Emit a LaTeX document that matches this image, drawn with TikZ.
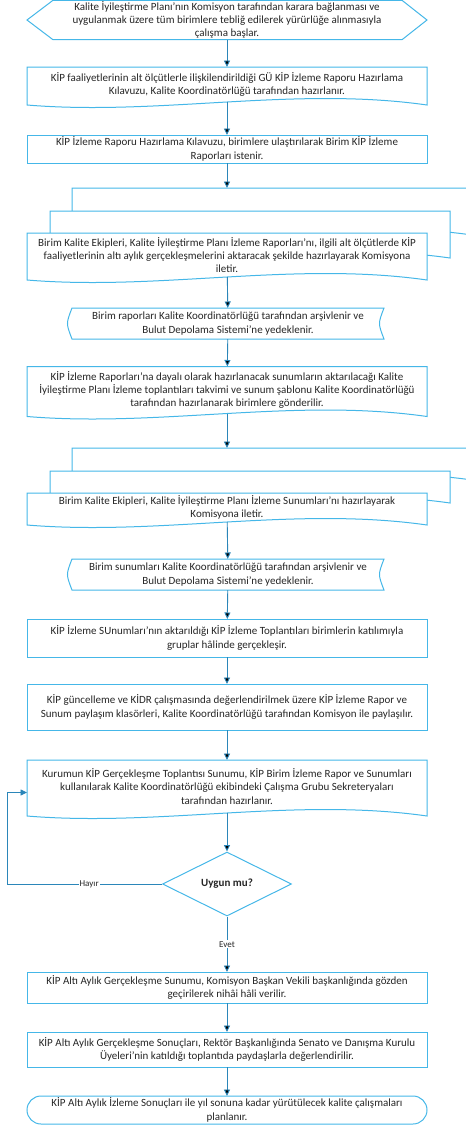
\documentclass[tikz,border=0pt]{standalone}
\usepackage{fontspec}
\setmainfont{Carlito}
\usepackage{tikz}
\usetikzlibrary{arrows.meta, shapes.geometric, backgrounds}
\definecolor{shapeblue}{HTML}{45B7E8}
\definecolor{arrowblue}{HTML}{2B86B9}
\definecolor{textgray}{HTML}{262626}

% document page with wavy bottom, shifted by (#2,#3)
\newcommand{\docpath}[3]{%
  \filldraw[shapeline] ([xshift=#2pt, yshift=#3pt-3pt]#1.south west) -- ([xshift=#2pt, yshift=#3pt]#1.north west)
    -- ([xshift=#2pt, yshift=#3pt]#1.north east) -- ([xshift=#2pt, yshift=#3pt-3pt]#1.south east)
    .. controls ([xshift=#2pt-133pt, yshift=#3pt+16pt]#1.south east) and ([xshift=#2pt+133pt, yshift=#3pt-14pt]#1.south west)
    .. ([xshift=#2pt, yshift=#3pt-3pt]#1.south west) -- cycle;}
% stored data outline
\newcommand{\storedpath}[1]{%
  \filldraw[shapeline] (#1.north west) -- (#1.north east) .. controls ([xshift=-6pt]#1.east) .. (#1.south east)
    -- (#1.south west) .. controls ([xshift=-6pt]#1.west) .. (#1.north west) -- cycle;}

\begin{document}
\begin{tikzpicture}[x=1pt, y=-1pt]
\tikzstyle{txt}=[align=center, font=\fontsize{11}{13.3}\selectfont, text=textgray, inner sep=1pt, outer sep=0pt, minimum width=400pt]
\tikzstyle{box}=[txt, rectangle, draw=shapeblue, line width=1pt]
\tikzstyle{stored}=[txt, minimum width=312pt]
\tikzstyle{terminal}=[box, rounded corners=14pt]
\tikzstyle{decision}=[diamond, draw=shapeblue, line width=1pt, minimum width=129pt, minimum height=64pt, inner sep=0pt, font=\fontsize{11}{12}\selectfont\bfseries, text=textgray]
\tikzstyle{flow}=[draw=arrowblue, line width=0.9pt, -{Triangle[width=6pt,length=6.5pt]}]
\tikzstyle{choice}=[fill=white, font=\fontsize{9}{10}\selectfont, text=textgray, inner sep=1pt]
\tikzset{shapeline/.style={draw=shapeblue, line width=1pt, fill=white}}

\useasboundingbox (0,0) rectangle (466,1125);

\node[txt, minimum height=38pt] (start) at (227,20) {Kalite İyileştirme Planı’nın Komisyon tarafından karara bağlanması ve\\ uygulanmak üzere tüm birimlere tebliğ edilerek yürürlüğe alınmasıyla\\ çalışma başlar.};
\node[txt, minimum height=35pt] (d1) at (227,84.5) {KİP faaliyetlerinin alt ölçütlerle ilişkilendirildiği GÜ KİP İzleme Raporu Hazırlama\\ Kılavuzu, Kalite Koordinatörlüğü tarafından hazırlanır.};
\node[box, minimum height=28pt] (r1) at (227,149) {KİP İzleme Raporu Hazırlama Kılavuzu, birimlere ulaştırılarak Birim KİP İzleme\\ Raporları istenir.};
\node[txt, minimum height=44pt] (m1) at (227,255) {Birim Kalite Ekipleri, Kalite İyileştirme Planı İzleme Raporları’nı, ilgili alt ölçütlerde KİP\\ faaliyetlerinin altı aylık gerçekleşmelerini aktaracak şekilde hazırlayarak Komisyona\\ iletir.};
\coordinate (m1back) at ([yshift=45pt]m1.north);
\node[stored, minimum height=31pt] (s1) at (228,323.5) {Birim raporları Kalite Koordinatörlüğü tarafından arşivlenir ve\\ Bulut Depolama Sistemi’ne yedeklenir.};
\node[txt, minimum height=47pt] (d2) at (227,390) {KİP İzleme Raporları’na dayalı olarak hazırlanacak sunumların aktarılacağı Kalite\\ İyileştirme Planı İzleme toplantıları takvimi ve sunum şablonu Kalite Koordinatörlüğü\\ tarafından hazırlanarak birimlere gönderilir.};
\node[txt, minimum height=29pt] (m2) at (227,507.5) {Birim Kalite Ekipleri, Kalite İyileştirme Planı İzleme Sunumları’nı hazırlayarak\\ Komisyona iletir.};
\coordinate (m2back) at ([yshift=45pt]m2.north);
\node[stored, minimum height=31pt] (s2) at (228,574.5) {Birim sunumları Kalite Koordinatörlüğü tarafından arşivlenir ve\\ Bulut Depolama Sistemi’ne yedeklenir.};
\node[box, minimum height=38pt] (r2) at (227,638) {KİP İzleme SUnumları’nın aktarıldığı KİP İzleme Toplantıları birimlerin katılımıyla\\ gruplar hâlinde gerçekleşir.};
\node[box, minimum height=46pt] (r3) at (227,707) {KİP güncelleme ve KİDR çalışmasında değerlendirilmek üzere KİP İzleme Rapor ve\\ Sunum paylaşım klasörleri, Kalite Koordinatörlüğü tarafından Komisyon ile paylaşılır.};
\node[txt, minimum height=53pt] (d3) at (227,786.5) {Kurumun KİP Gerçekleşme Toplantısı Sunumu, KİP Birim İzleme Rapor ve Sunumları\\ kullanılarak Kalite Koordinatörlüğü ekibindeki Çalışma Grubu Sekreteryaları\\ tarafından hazırlanır.};
\node[decision] (dia) at (227,884) {Uygun mu?};
\node[box, minimum height=31pt] (r4) at (227,987.5) {KİP Altı Aylık Gerçekleşme Sunumu, Komisyon Başkan Vekili başkanlığında gözden\\ geçirilerek nihâi hâli verilir.};
\node[box, minimum height=35pt] (r5) at (227,1049.5) {KİP Altı Aylık Gerçekleşme Sonuçları, Rektör Başkanlığında Senato ve Danışma Kurulu\\ Üyeleri’nin katıldığı toplantıda paydaşlarla değerlendirilir.};
\node[terminal, minimum height=28pt] (t1) at (227,1110) {KİP Altı Aylık İzleme Sonuçları ile yıl sonuna kadar yürütülecek kalite çalışmaları\\ planlanır.};

\path[flow]
(start) edge (d1)
(d1) edge (r1)
(r1) edge (m1back)
(m1) edge (s1)
(s1) edge (d2)
(d2) edge (m2back)
(m2) edge (s2)
(s2) edge (r2)
(r2) edge (r3)
(r3) edge (d3)
(d3) edge (dia)
(dia) edge node[choice, pos=0.5] {Evet} (r4)
(r4) edge (r5)
(r5) edge (t1);

\draw[flow] (dia.west) -- node[choice, pos=0.47] {Hayır} ++(-155,0) |- ([yshift=-6pt]d3.west);

\begin{pgfonlayer}{background}
\filldraw[shapeline] (start.west) -- ([xshift=26pt]start.north west) -- ([xshift=-25pt]start.north east) -- (start.east)
  -- ([xshift=-25pt]start.south east) -- ([xshift=26pt]start.south west) -- cycle;
\docpath{d1}{0}{0}
\docpath{m1}{45}{45}
\docpath{m1}{23}{22}
\docpath{m1}{0}{0}
\storedpath{s1}
\docpath{d2}{0}{0}
\docpath{m2}{45}{45}
\docpath{m2}{23}{22}
\docpath{m2}{0}{0}
\storedpath{s2}
\docpath{d3}{0}{0}
\end{pgfonlayer}
\end{tikzpicture}
\end{document}
